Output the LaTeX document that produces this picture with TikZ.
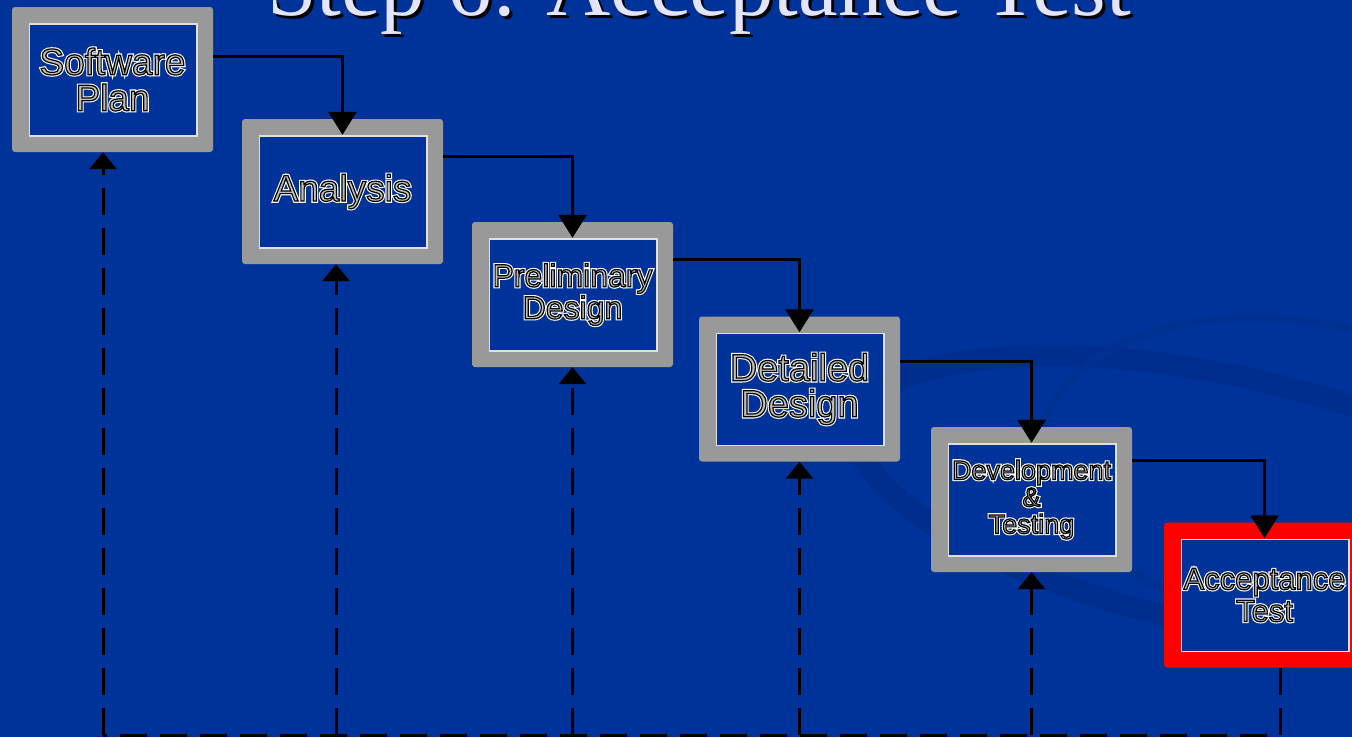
\documentclass[tikz,border=0pt]{standalone}
\usepackage{fontspec}
\usepackage{tikz}
\usepackage{xcolor}
\usetikzlibrary{arrows.meta}
\setmainfont{Liberation Sans}
\newfontfamily\titlefont{Liberation Serif}
\definecolor{slideblue}{RGB}{0,51,153}
\definecolor{swirlblue}{RGB}{0,46,142}
\definecolor{framegray}{RGB}{153,153,153}
\definecolor{titlelav}{RGB}{228,228,255}
\definecolor{textgray}{RGB}{190,190,190}
% outlined lettering: white halo, then gray fill with black edge
\newcommand{\outl}[1]{\rlap{\special{pdf:literal direct 1 Tr 3.4 w 1 1 1 RG}#1}%
  \special{pdf:literal direct 2 Tr 1.2 w 0 0 0 RG}#1\special{pdf:literal direct 0 Tr}}

\tikzset{
  stepbox/.style={fill=framegray, rounded corners=3pt, minimum width=201pt,
    minimum height=145pt, inner sep=0pt, align=center, text=textgray,
    path picture={\draw[sharp corners, white!88!black, line width=1.6pt, fill=slideblue]
      ([xshift=17.5pt,yshift=-17pt]path picture bounding box.north west) rectangle
      ([xshift=-16pt,yshift=16pt]path picture bounding box.south east);}},
  flow/.style={line width=3pt, -{Triangle[width=28pt,length=23pt]}},
  backline/.style={line width=3pt, dash pattern=on 27pt off 13pt},
  backarrow/.style={backline, -{Triangle[width=27pt,length=17pt]}}
}

\begin{document}
\begin{tikzpicture}[x=1pt, y=-1pt]
  \useasboundingbox (0,0) rectangle (1352,737);
  \clip (0,0) rectangle (1352,737);
  \fill[slideblue] (0,0) rectangle (1352,737);
  % background swirl
  \draw[swirlblue, line width=22pt, rotate around={-12:(1220,500)}]
    (1220,500) ellipse [x radius=370, y radius=125];
  \draw[swirlblue!60!slideblue, line width=8pt, rotate around={-8:(1290,470)}]
    (1290,470) ellipse [x radius=250, y radius=150];

  % title
  \node[font=\titlefont\fontsize{89}{89}\selectfont, text=black, anchor=base]
    (titleshadow) at (702,18) {Step 6: Acceptance Test};
  \node[font=\titlefont\fontsize{89}{89}\selectfont, text=titlelav, anchor=base]
    (title) at (699,15) {Step 6: Acceptance Test};

  % stages
  \node[stepbox, font=\fontsize{37}{36}\selectfont] (swplan) at (112.5,79.5)
    {\outl{Software}\\\outl{Plan}};
  \node[stepbox, font=\fontsize{37}{36}\selectfont] (analysis) at (342.5,191.5)
    {\outl{Analysis}};
  \node[stepbox, font=\fontsize{32}{32}\selectfont] (prelim) at (572.5,294.5)
    {\outl{Preliminary}\\\outl{Design}};
  \node[stepbox, font=\fontsize{38}{36}\selectfont] (detailed) at (799.5,389)
    {\outl{Detailed}\\\outl{Design}};
  \node[stepbox, font=\fontsize{27}{27}\selectfont] (devtest) at (1031.5,499.5)
    {\outl{Development}\\\outl{\&}\\\outl{Testing}};
  \node[stepbox, fill=red, font=\fontsize{31}{32}\selectfont] (acctest) at (1264.5,595)
    {\outl{Acceptance}\\\outl{Test}};

  % forward flow
  \draw[flow] ([yshift=23.5pt]swplan.east) -| ([yshift=-16pt]analysis.north);
  \draw[flow] ([yshift=35pt]analysis.east) -| ([yshift=-16pt]prelim.north);
  \draw[flow] ([yshift=35.5pt]prelim.east) -| ([yshift=-16pt]detailed.north);
  \draw[flow] ([yshift=28pt]detailed.east) -| ([yshift=-16pt]devtest.north);
  \draw[flow] ([yshift=39.5pt]devtest.east) -| ([yshift=-16pt]acctest.north);

  % feedback
  \coordinate (baseL) at (103,735);
  \draw[backline] ([xshift=15.5pt]acctest.south) |- (baseL);
  \draw[backarrow] ([xshift=-9.5pt]swplan.south |- baseL) -- ([xshift=-9.5pt]swplan.south);
  \draw[backarrow] ([xshift=-6.5pt]analysis.south |- baseL) -- ([xshift=-6.5pt]analysis.south);
  \draw[backarrow] (prelim.south |- baseL) -- (prelim.south);
  \draw[backarrow] (detailed.south |- baseL) -- (detailed.south);
  \draw[backarrow] (devtest.south |- baseL) -- (devtest.south);
\end{tikzpicture}
\end{document}
